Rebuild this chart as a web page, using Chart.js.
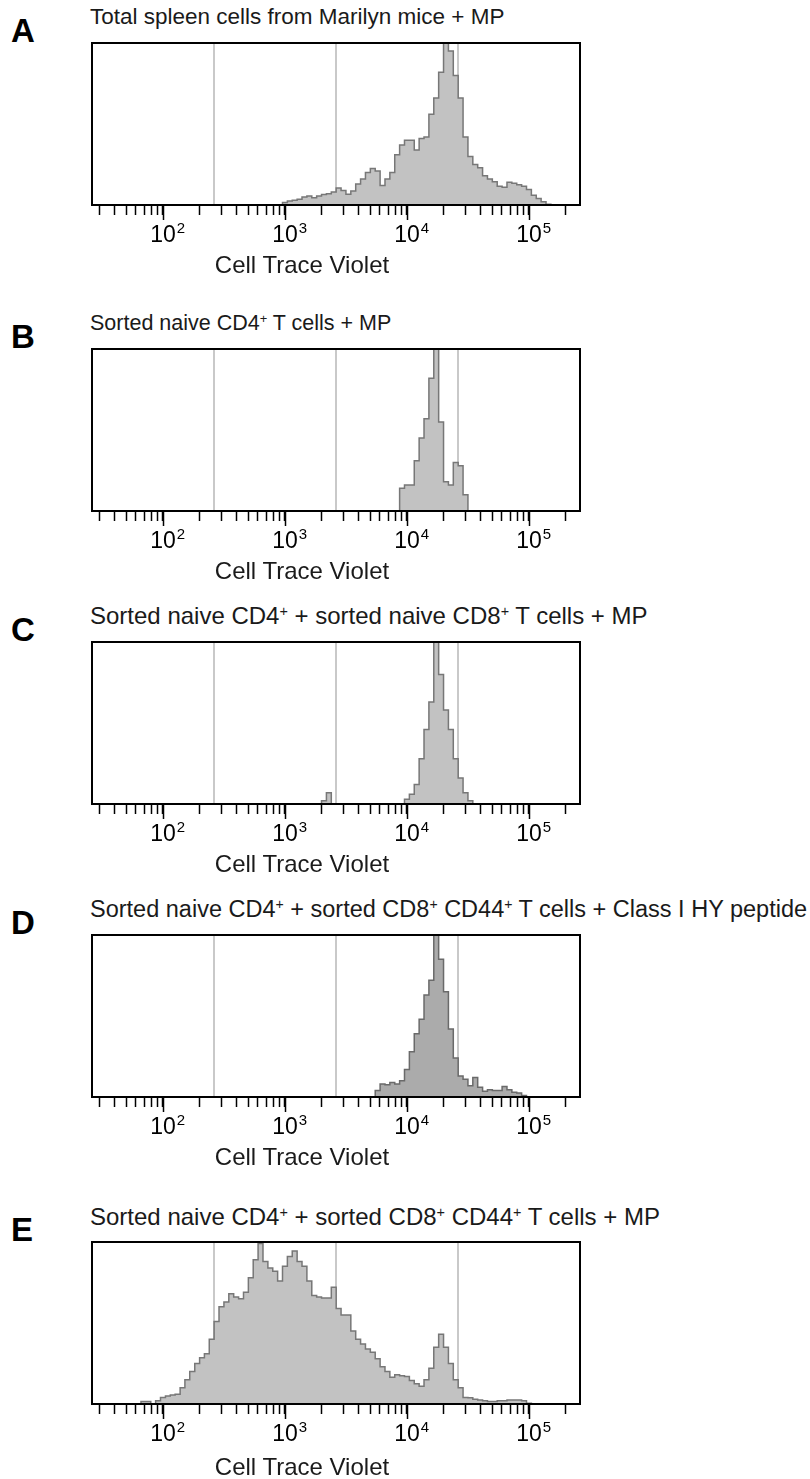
<!DOCTYPE html>
<html>
<head>
<meta charset="utf-8">
<script src="https://cdn.jsdelivr.net/npm/chart.js@4.4.1/dist/chart.umd.min.js"></script>
<style>
  body { margin: 0; background: #fff; }
  #page { position: relative; width: 810px; height: 1479px; overflow: hidden; font-family: "Liberation Sans", Arial, sans-serif; color: #1a1a1a; }
  #page canvas { position: absolute; left: 0; }
  .letter { position: absolute; left: 11px; font-size: 33px; font-weight: bold; line-height: 1; color: #000; }
  .title { position: absolute; left: 90px; line-height: 1; white-space: nowrap; }
  .title sup { font-size: 60%; vertical-align: 0.55em; line-height: 0; }
  .xlabel { position: absolute; left: 302px; transform: translateX(-50%); font-size: 24px; line-height: 1; white-space: nowrap; }
</style>
</head>
<body>
<div id="page">
  <div class="letter" style="top:14px">A</div>
  <div class="title" style="top:6px;font-size:22.5px">Total spleen cells from Marilyn mice + MP</div>
  <canvas id="chartA" width="810" height="232" style="top:33px"></canvas>
  <div class="xlabel" style="top:253px">Cell Trace Violet</div>

  <div class="letter" style="top:320px">B</div>
  <div class="title" style="top:313px;font-size:21.5px">Sorted naive CD4<sup>+</sup> T cells + MP</div>
  <canvas id="chartB" width="810" height="232" style="top:339px"></canvas>
  <div class="xlabel" style="top:559px">Cell Trace Violet</div>

  <div class="letter" style="top:613px">C</div>
  <div class="title" style="top:604px;font-size:24px">Sorted naive CD4<sup>+</sup> + sorted naive CD8<sup>+</sup> T cells + MP</div>
  <canvas id="chartC" width="810" height="232" style="top:632px"></canvas>
  <div class="xlabel" style="top:852px">Cell Trace Violet</div>

  <div class="letter" style="top:906px">D</div>
  <div class="title" style="top:898px;font-size:23.5px">Sorted naive CD4<sup>+</sup> + sorted CD8<sup>+</sup> CD44<sup>+</sup> T cells + Class I HY peptide</div>
  <canvas id="chartD" width="810" height="232" style="top:925px"></canvas>
  <div class="xlabel" style="top:1145px">Cell Trace Violet</div>

  <div class="letter" style="top:1213px">E</div>
  <div class="title" style="top:1205px;font-size:24px">Sorted naive CD4<sup>+</sup> + sorted CD8<sup>+</sup> CD44<sup>+</sup> T cells + MP</div>
  <canvas id="chartE" width="810" height="232" style="top:1232px"></canvas>
  <div class="xlabel" style="top:1455px">Cell Trace Violet</div>
</div>
<script>
// channel centres, 0.04 decade apart (10^1.44 ... 10^5.40)
const channels = [
  27.5, 30.2, 33.1, 36.3, 39.8, 43.7, 47.9, 52.5, 57.5, 63.1, 69.2, 75.9, 83.2, 91.2,
  100, 110, 120, 132, 145, 158, 174, 191, 209, 229, 251, 275, 302, 331, 363, 398, 437, 479, 525, 575, 631, 692, 759, 832, 912,
  1000, 1096, 1202, 1318, 1445, 1585, 1738, 1905, 2089, 2291, 2512, 2754, 3020, 3311, 3631, 3981, 4365, 4786, 5248, 5754, 6310, 6918, 7586, 8318, 9120,
  10000, 10965, 12023, 13183, 14454, 15849, 17378, 19055, 20893, 22909, 25119, 27542, 30200, 33113, 36308, 39811, 43652, 47863, 52481, 57544, 63096, 69183, 75858, 83176, 91201,
  100000, 109648, 120226, 131826, 144544, 158489, 173780, 190546, 208930, 229087, 251189
]

// % of mode
const countsA = [
  0, 0, 0, 0, 0, 0, 0, 0, 0, 0, 0, 0, 0, 0,
  0, 0, 0, 0, 0, 0, 0, 0, 0, 0, 0, 0, 0, 0, 0, 0, 0, 0, 0, 0, 0, 0, 0, 0, 0,
  1.5, 2.5, 3, 3.5, 5, 5.5, 4.5, 5.6, 6.5, 7, 8, 10.5, 9, 6.6, 8.7, 13, 16, 20, 22.5, 21, 12, 16, 20, 31, 37,
  40, 40, 34, 41, 42, 56, 66, 82, 100, 95, 80, 66, 42, 30, 25, 23, 18, 16, 14.3, 11.5, 11, 14, 13.5, 12.5, 11.5,
  9.5, 6, 4, 2, 0.5, 0, 0, 0, 0, 0, 0
]
const countsB = [
  0, 0, 0, 0, 0, 0, 0, 0, 0, 0, 0, 0, 0, 0,
  0, 0, 0, 0, 0, 0, 0, 0, 0, 0, 0, 0, 0, 0, 0, 0, 0, 0, 0, 0, 0, 0, 0, 0, 0,
  0, 0, 0, 0, 0, 0, 0, 0, 0, 0, 0, 0, 0, 0, 0, 0, 0, 0, 0, 0, 0, 0, 0, 0, 14,
  16, 16, 31, 45, 57, 82, 100, 55, 18, 16, 30, 28, 10, 0, 0, 0, 0, 0, 0, 0, 0, 0, 0, 0, 0,
  0, 0, 0, 0, 0, 0, 0, 0, 0, 0, 0
]
const countsC = [
  0, 0, 0, 0, 0, 0, 0, 0, 0, 0, 0, 0, 0, 0,
  0, 0, 0, 0, 0, 0, 0, 0, 0, 0, 0, 0, 0, 0, 0, 0, 0, 0, 0, 0, 0, 0, 0, 0, 0,
  0, 0, 0, 0, 0, 0, 0, 0, 2, 7, 0, 0, 0, 0, 0, 0, 0, 0, 0, 0, 0, 0, 0, 0, 0,
  3, 6, 12, 28, 46, 63, 100, 80, 58, 46, 28, 16, 7, 2, 0, 0, 0, 0, 0, 0, 0, 0, 0, 0, 0,
  0, 0, 0, 0, 0, 0, 0, 0, 0, 0, 0
]
const countsD = [
  0, 0, 0, 0, 0, 0, 0, 0, 0, 0, 0, 0, 0, 0,
  0, 0, 0, 0, 0, 0, 0, 0, 0, 0, 0, 0, 0, 0, 0, 0, 0, 0, 0, 0, 0, 0, 0, 0, 0,
  0, 0, 0, 0, 0, 0, 0, 0, 0, 0, 0, 0, 0, 0, 0, 0, 0, 0, 0, 4, 8, 7.5, 9, 8, 10,
  17, 28, 39, 48, 63, 72, 100, 85, 65, 42, 24, 13, 11, 7, 12, 6, 3.5, 4.5, 4, 4, 6.5, 4.5, 3, 2.5, 1,
  0, 0, 0, 0, 0, 0, 0, 0, 0, 0, 0
]
const countsE = [
  0, 0, 0, 0, 0, 0, 0, 0, 0, 0, 1.5, 1.5, 0, 2,
  4, 5, 5.5, 6, 10, 15, 20, 25, 28.5, 31, 40, 51, 60, 63, 68, 66, 65, 69, 78, 89, 99, 88, 84, 82, 76,
  85, 91, 94.5, 88, 85, 76, 67, 66, 65.5, 65.5, 72, 59, 55, 55, 45, 40, 37, 34, 32, 28, 23, 20, 16.5, 18, 17.5,
  17, 14.5, 12.5, 11, 15, 22, 35, 43, 35, 25, 15, 10, 4, 3.8, 3, 2.5, 2, 1.5, 1.5, 2, 2, 2.5, 2.5, 2.5,
  2, 0.5, 0, 0, 0, 0, 0, 0, 0, 0, 0
]

const minorTicks = [30, 40, 50, 60, 70, 80, 90, 200, 300, 400, 500, 600, 700, 800, 900,
  2000, 3000, 4000, 5000, 6000, 7000, 8000, 9000,
  20000, 30000, 40000, 50000, 60000, 70000, 80000, 90000, 200000]
const decadeTicks = [100, 1000, 10000, 100000]
const decadeExponents = ["2", "3", "4", "5"]
const gateTicks = [262.144, 2621.44, 26214.4]
const axisMin = 26.2144
const axisMax = 262144

const FONT = "'Liberation Sans', Arial, sans-serif"
const allTicks = [...minorTicks, ...decadeTicks, ...gateTicks].sort((a, b) => a - b)
const isGate = t => !!t && gateTicks.includes(t.value)

// box, longer decade ticks and 10^n labels
const frame = {
    id: "frame",
    afterDraw(chart) {
        const { ctx, chartArea: a, scales: { x } } = chart
        ctx.save()
        ctx.strokeStyle = "#000"
        ctx.lineWidth = 1.5
        decadeTicks.forEach(v => {
            const px = Math.round(x.getPixelForValue(v)) + 0.5
            ctx.beginPath()
            ctx.moveTo(px, a.bottom)
            ctx.lineTo(px, a.bottom + 15)
            ctx.stroke()
        })
        ctx.lineWidth = 2
        ctx.strokeRect(Math.round(a.left), Math.round(a.top), Math.round(a.width), Math.round(a.height))

        ctx.fillStyle = "#000"
        ctx.textBaseline = "alphabetic"
        decadeTicks.forEach((v, k) => {
            const px = x.getPixelForValue(v)
            ctx.font = "23px " + FONT
            ctx.textAlign = "center"
            ctx.fillText("10", px, a.bottom + 37)
            const w = ctx.measureText("10").width
            ctx.font = "15px " + FONT
            ctx.textAlign = "left"
            ctx.fillText(decadeExponents[k], px + w / 2 + 1, a.bottom + 28)
        })
        ctx.restore()
    }
}

function makeChart(id, counts, fill, line) {
    new Chart(document.getElementById(id), {
        type: "line",
        data: {
            datasets: [{
                data: channels.map((c, i) => ({ x: c, y: counts[i] })),
                stepped: "middle",
                fill: "origin",
                backgroundColor: fill,
                borderColor: line,
                borderWidth: 1.5,
                pointRadius: 0
            }]
        },
        options: {
            responsive: false,
            animation: false,
            devicePixelRatio: 1,
            layout: { padding: { top: 10, left: 92, right: 230, bottom: 0 } },
            plugins: { legend: { display: false }, tooltip: { enabled: false } },
            scales: {
                x: {
                    type: "logarithmic",
                    min: axisMin,
                    max: axisMax,
                    z: 1,
                    afterBuildTicks: s => { s.ticks = allTicks.map(v => ({ value: v })) },
                    afterFit: s => { s.height = 60 },
                    border: { display: false },
                    grid: {
                        drawOnChartArea: true,
                        tickLength: 10,
                        color: c => isGate(c.tick) ? "#c9c9c9" : "rgba(0,0,0,0)",
                        lineWidth: c => isGate(c.tick) ? 2 : 1,
                        tickColor: c => isGate(c.tick) ? "rgba(0,0,0,0)" : "#000",
                        tickWidth: 1.5
                    },
                    ticks: { display: false, autoSkip: false }
                },
                y: { display: false, min: 0, max: 100 }
            }
        },
        plugins: [frame]
    })
}

makeChart("chartA", countsA, "#c2c2c2", "#777777")
makeChart("chartB", countsB, "#c2c2c2", "#777777")
makeChart("chartC", countsC, "#c2c2c2", "#777777")
makeChart("chartD", countsD, "#ababab", "#6a6a6a")
makeChart("chartE", countsE, "#c2c2c2", "#777777")
</script>
</body>
</html>
